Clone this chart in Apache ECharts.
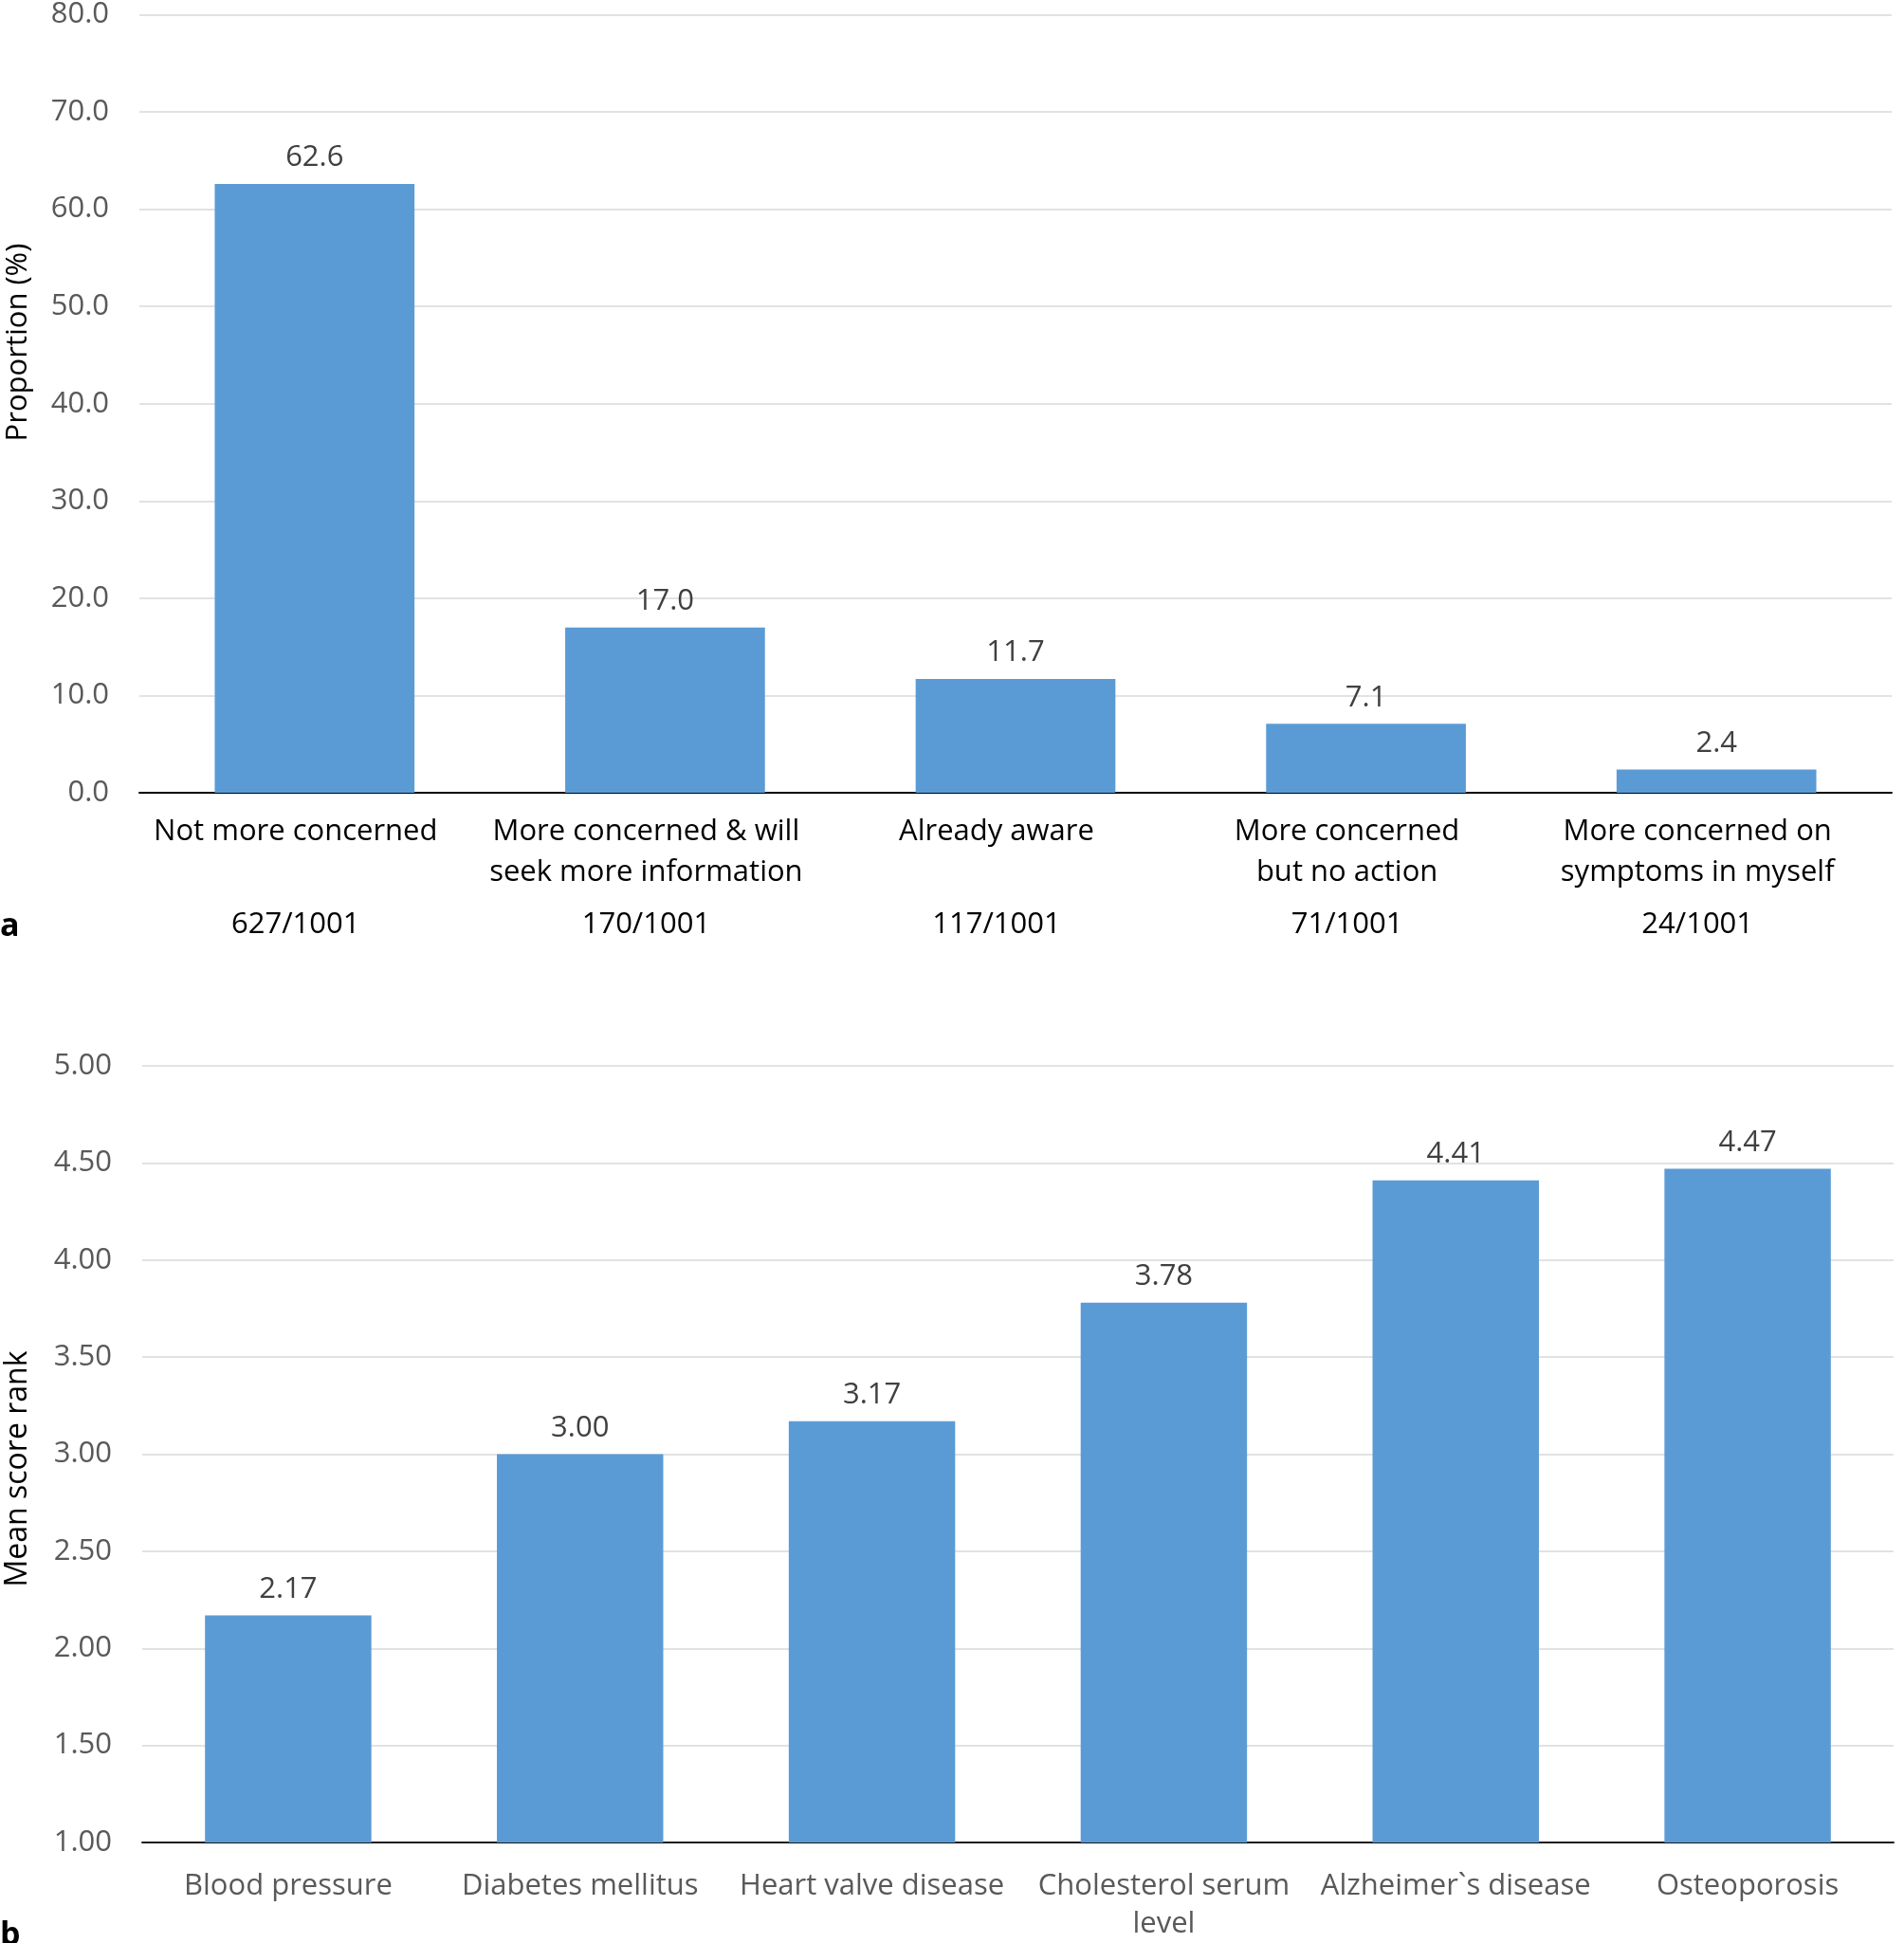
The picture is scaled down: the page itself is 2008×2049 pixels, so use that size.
<!DOCTYPE html>
<html>
<head>
<meta charset="utf-8">
<script src="https://cdn.jsdelivr.net/npm/echarts@6/dist/echarts.min.js"></script>
<style>
  html, body { margin: 0; padding: 0; background: #fff; }
  #chart { width: 2008px; height: 2049px; }
</style>
</head>
<body>
<div id="chart"></div>
<script>
// ---- Data ----
const categoriesA = [
  'Not more concerned',
  'More concerned & will\nseek more information',
  'Already aware',
  'More concerned\nbut no action',
  'More concerned on\nsymptoms in myself'
];
const proportionsA = [62.6, 17.0, 11.7, 7.1, 2.4];
const countsA = ['627/1001', '170/1001', '117/1001', '71/1001', '24/1001'];

const categoriesB = [
  'Blood pressure',
  'Diabetes mellitus',
  'Heart valve disease',
  'Cholesterol serum\nlevel',
  'Alzheimer`s disease',
  'Osteoporosis'
];
const meanRankB = [2.17, 3.00, 3.17, 3.78, 4.41, 4.47];

const axisTitleA = 'Proportion (%)';
const axisTitleB = 'Mean score rank';
const panelA = 'a';
const panelB = 'b';

// ---- Chart ----
const FONT = '"Open Sans", "Noto Sans", sans-serif';
const BAR = '#5B9BD5';
const chart = echarts.init(document.getElementById('chart'), null, { renderer: 'canvas' });

const option = {
  animation: false,
  backgroundColor: '#ffffff',
  textStyle: { fontFamily: FONT },
  grid: [
    { left: 147, right: 13, top: 13, height: 823 },
    { left: 150, right: 11, top: 1124, height: 824 }
  ],
  xAxis: [
    {
      type: 'category', gridIndex: 0, data: categoriesA,
      axisLine: { lineStyle: { color: '#000000', width: 2 } },
      axisTick: { show: false },
      axisLabel: { interval: 0, color: '#000000', fontSize: 31, fontFamily: FONT, lineHeight: 43, margin: 20,
        padding: [0, 40, 0, 0] }
    },
    {
      type: 'category', gridIndex: 0, data: countsA, position: 'bottom', offset: 116,
      axisLine: { show: false }, axisTick: { show: false },
      axisLabel: { interval: 0, color: '#000000', fontSize: 31, fontFamily: FONT, margin: 8,
        padding: [0, 40, 0, 0] }
    },
    {
      type: 'category', gridIndex: 1, data: categoriesB,
      axisLine: { lineStyle: { color: '#1a1a1a', width: 2 } },
      axisTick: { show: false },
      axisLabel: { interval: 0, color: '#595959', fontSize: 31, fontFamily: FONT, lineHeight: 40, margin: 26 }
    }
  ],
  yAxis: [
    {
      type: 'value', gridIndex: 0, min: 0, max: 80, interval: 10,
      axisLine: { show: false }, axisTick: { show: false },
      splitLine: { lineStyle: { color: '#D9D9D9', width: 1.5 } },
      axisLabel: { color: '#595959', fontSize: 31, fontFamily: FONT, margin: 32,
        formatter: v => v.toFixed(1) }
    },
    {
      type: 'value', gridIndex: 1, min: 1, max: 5, interval: 0.5,
      axisLine: { show: false }, axisTick: { show: false },
      splitLine: { lineStyle: { color: '#D9D9D9', width: 1.5 } },
      axisLabel: { color: '#595959', fontSize: 31, fontFamily: FONT, margin: 32,
        formatter: v => v.toFixed(2) }
    }
  ],
  series: [
    {
      type: 'bar', xAxisIndex: 0, yAxisIndex: 0, data: proportionsA,
      barWidth: '57%',
      itemStyle: { color: BAR },
      label: { show: true, position: 'top', distance: 12, color: '#404040', fontSize: 31, fontFamily: FONT,
        formatter: p => p.value.toFixed(1) }
    },
    {
      type: 'bar', xAxisIndex: 2, yAxisIndex: 1, data: meanRankB,
      barWidth: '57%',
      itemStyle: { color: BAR },
      label: { show: true, position: 'top', distance: 12, color: '#404040', fontSize: 31, fontFamily: FONT,
        formatter: p => p.value.toFixed(2) }
    }
  ],
  graphic: [
    { type: 'text', x: 19, y: 361, rotation: Math.PI / 2,
      style: { text: axisTitleA, fill: '#000000', font: '31px ' + FONT,
        align: 'center', verticalAlign: 'middle', textAlign: 'center', textVerticalAlign: 'middle' } },
    { type: 'text', x: 19, y: 1549, rotation: Math.PI / 2,
      style: { text: axisTitleB, fill: '#000000', font: '32px ' + FONT,
        align: 'center', verticalAlign: 'middle', textAlign: 'center', textVerticalAlign: 'middle' } },
    { type: 'text', x: 0, y: 977,
      style: { text: panelA, fill: '#000000', font: 'bold 34px ' + FONT,
        align: 'left', verticalAlign: 'middle', textAlign: 'left', textVerticalAlign: 'middle' } },
    { type: 'text', x: 0, y: 2024,
      style: { text: panelB, fill: '#000000', font: 'bold 34px ' + FONT,
        align: 'left', verticalAlign: 'top', textAlign: 'left', textVerticalAlign: 'top' } }
  ]
};
chart.setOption(option);
</script>
</body>
</html>
